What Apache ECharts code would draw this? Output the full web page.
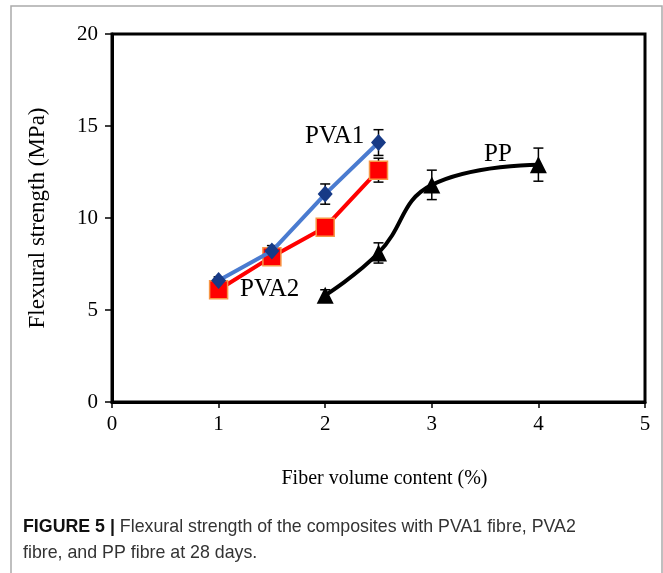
<!DOCTYPE html>
<html>
<head>
<meta charset="utf-8">
<script src="https://cdn.jsdelivr.net/npm/echarts@6/dist/echarts.min.js"></script>
<style>
  html, body { margin: 0; padding: 0; background: #fff; }
  #chart { width: 663px; height: 573px; }
</style>
</head>
<body>
<div id="chart"></div>
<script>
// Fibre volume content (%) and flexural strength (MPa) at 28 days
const pva1X = [1, 1.5, 2, 2.5];
const pva1Y = [6.6, 8.2, 11.3, 14.1];
const pva1Err = [0.2, 0.3, 0.55, 0.7];

const pva2X = [1, 1.5, 2, 2.5];
const pva2Y = [6.1, 7.9, 9.5, 12.6];
const pva2Err = [0.15, 0.2, 0.3, 0.65];

const ppX = [2, 2.5, 3, 4];
const ppY = [5.8, 8.1, 11.8, 12.9];
const ppErr = [0.3, 0.55, 0.8, 0.9];

const yTicks = [0, 5, 10, 15, 20];
const xTicks = [0, 1, 2, 3, 4, 5];

const serif = '"Liberation Serif", "Times New Roman", serif';
const sans = '"Liberation Sans", Arial, sans-serif';

function pairs(xs, ys) { return xs.map((x, i) => [x, ys[i]]); }
function errRows(xs, ys, es) { return xs.map((x, i) => [x, ys[i] - es[i], ys[i] + es[i]]); }

// Vertical error bar with short caps
function errorBar(params, api) {
  const x = api.value(0);
  const lo = api.coord([x, api.value(1)]);
  const hi = api.coord([x, api.value(2)]);
  const hw = 5;
  const style = { stroke: '#000', lineWidth: 1.5 };
  return {
    type: 'group',
    children: [
      { type: 'line', shape: { x1: lo[0], y1: lo[1], x2: hi[0], y2: hi[1] }, style },
      { type: 'line', shape: { x1: hi[0] - hw, y1: hi[1], x2: hi[0] + hw, y2: hi[1] }, style },
      { type: 'line', shape: { x1: lo[0] - hw, y1: lo[1], x2: lo[0] + hw, y2: lo[1] }, style }
    ]
  };
}

const chart = echarts.init(document.getElementById('chart'), null, { renderer: 'canvas' });

chart.setOption({
  animation: false,
  backgroundColor: '#fff',
  grid: {
    left: 112, right: 18, top: 34, bottom: 171,
    show: true, borderColor: '#000', borderWidth: 3, backgroundColor: 'transparent'
  },
  xAxis: {
    type: 'value', min: 0, max: 5, interval: 1,
    name: 'Fiber volume content (%)', nameLocation: 'middle', nameGap: 67,
    nameTextStyle: { fontFamily: serif, fontSize: 20, color: '#000', padding: [0, 0, 0, 12] },
    axisLine: { show: true, lineStyle: { color: '#000', width: 3 } },
    axisTick: { show: true, inside: false, length: 6, lineStyle: { color: '#000', width: 1.5 } },
    axisLabel: {
      fontFamily: serif, fontSize: 21, color: '#000', margin: 12,
      formatter: v => String(xTicks[xTicks.indexOf(v)] ?? v)
    },
    splitLine: { show: false }
  },
  yAxis: {
    type: 'value', min: 0, max: 20, interval: 5,
    name: 'Flexural strength (MPa)', nameLocation: 'middle', nameGap: 63,
    nameTextStyle: { fontFamily: serif, fontSize: 23, color: '#000' },
    axisLine: { show: true, lineStyle: { color: '#000', width: 3 } },
    axisTick: { show: true, inside: false, length: 7, lineStyle: { color: '#000', width: 1.5 } },
    axisLabel: {
      fontFamily: serif, fontSize: 21, color: '#000', margin: 14,
      formatter: v => String(yTicks[yTicks.indexOf(v)] ?? v)
    },
    splitLine: { show: false }
  },
  series: [
    { type: 'custom', renderItem: errorBar, data: errRows(pva1X, pva1Y, pva1Err), z: 2, encode: { x: 0, y: [1, 2] } },
    { type: 'custom', renderItem: errorBar, data: errRows(pva2X, pva2Y, pva2Err), z: 2, encode: { x: 0, y: [1, 2] } },
    { type: 'custom', renderItem: errorBar, data: errRows(ppX, ppY, ppErr), z: 2, encode: { x: 0, y: [1, 2] } },
    {
      name: 'PP', type: 'line', smooth: 0.45, z: 3,
      data: pairs(ppX, ppY),
      lineStyle: { color: '#000', width: 4 },
      symbol: 'triangle', symbolSize: 17,
      itemStyle: { color: '#000', borderColor: '#000', borderWidth: 0 }
    },
    {
      name: 'PVA2', type: 'line', z: 3,
      data: pairs(pva2X, pva2Y),
      lineStyle: { color: '#ff0000', width: 4 },
      symbol: 'rect', symbolSize: 18,
      itemStyle: { color: '#ff0000', borderColor: '#f79646', borderWidth: 1.5 }
    },
    {
      name: 'PVA1', type: 'line', z: 4,
      data: pairs(pva1X, pva1Y),
      lineStyle: { color: '#4a7bd0', width: 4 },
      symbol: 'diamond', symbolSize: [15, 17],
      itemStyle: { color: '#173a86', borderColor: '#173a86', borderWidth: 0 }
    }
  ],
  graphic: [
    // outer figure frame
    { type: 'rect', shape: { x: 11, y: 6, width: 651, height: 620 }, style: { fill: 'none', stroke: '#aaaaaa', lineWidth: 1.5 }, z: -10 },
    // series names
    { type: 'text', x: 305, y: 124, style: { text: 'PVA1', font: '25px ' + serif, fill: '#000' }, z: 10 },
    { type: 'text', x: 240, y: 277, style: { text: 'PVA2', font: '25px ' + serif, fill: '#000' }, z: 10 },
    { type: 'text', x: 484, y: 142, style: { text: 'PP', font: '25px ' + serif, fill: '#000' }, z: 10 },
    // caption
    {
      type: 'text', x: 23, y: 514, z: 10,
      style: {
        text: '{b|FIGURE 5 |} Flexural strength of the composites with PVA1 fibre, PVA2\nfibre, and PP fibre at 28 days.',
        font: '17.8px ' + sans,
        fill: '#333', lineHeight: 26,
        rich: {
          b: { fontWeight: 'bold', fontSize: 17.8, fontFamily: sans, fill: '#111', lineHeight: 26 }
        }
      }
    }
  ]
});
</script>
</body>
</html>
